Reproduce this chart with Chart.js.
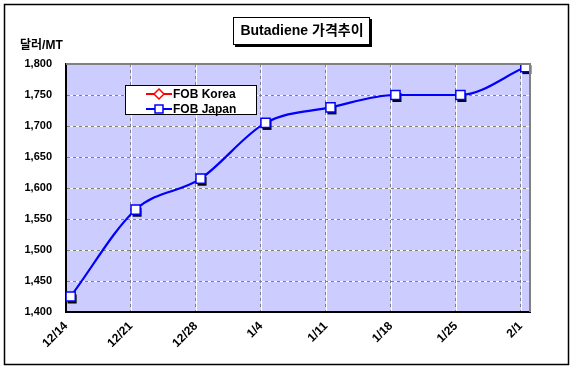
<!DOCTYPE html>
<html>
<head>
<meta charset="utf-8">
<script src="https://cdn.jsdelivr.net/npm/chart.js@4"></script>
<style>
  body { margin: 0; background: #fff; }
  canvas { display: block; }
</style>
</head>
<body>
<canvas id="myChart" width="574" height="369"></canvas>
<script>
// weekly dates and day offsets from 12/14
var categories = ['12/14', '12/21', '12/28', '1/4', '1/11', '1/18', '1/25', '2/1'];
var dayIndex = [0, 7, 14, 21, 28, 35, 42, 49];
var fobKorea = [1425, 1565, 1615, 1705, 1730, 1750, 1750, 1795];
var fobJapan = [1425, 1565, 1615, 1705, 1730, 1750, 1750, 1795];
var yTicks = [1400, 1450, 1500, 1550, 1600, 1650, 1700, 1750, 1800];

var FONT = "'Liberation Sans', 'Noto Sans CJK KR', sans-serif";

function toPoints(values) {
    // Excel date axis puts each point in the middle of its day
    return values.map(function (v, i) { return { x: dayIndex[i] + 0.5, y: v }; });
}

var decor = {
    id: 'decor',
    beforeDraw: function (chart) {
        var c = chart.ctx, a = chart.chartArea;
        c.save();
        c.fillStyle = '#CCCCFF';
        c.fillRect(a.left, a.top, a.right - a.left, a.bottom - a.top);
        // white under-line for the dashed grid
        c.strokeStyle = '#ffffff';
        c.lineWidth = 1;
        chart.scales.x.ticks.forEach(function (t) {
            var px = Math.round(chart.scales.x.getPixelForValue(t.value)) + 0.5;
            c.beginPath(); c.moveTo(px, a.top); c.lineTo(px, a.bottom); c.stroke();
        });
        chart.scales.y.ticks.forEach(function (t) {
            var py = Math.round(chart.scales.y.getPixelForValue(t.value)) + 0.5;
            c.beginPath(); c.moveTo(a.left, py); c.lineTo(a.right, py); c.stroke();
        });
        c.restore();
    },
    beforeDatasetDraw: function (chart, args) {
        if (chart.data.datasets[args.index].label !== 'FOB Japan') return;
        var c = chart.ctx;
        c.save();
        c.fillStyle = '#000000';
        args.meta.data.forEach(function (p) {
            c.fillRect(p.x - 3, p.y - 2, 9, 9);
        });
        c.restore();
    },
    afterDraw: function (chart) {
        var c = chart.ctx, a = chart.chartArea;
        c.save();
        // plot area frame (top / right)
        c.strokeStyle = '#808080';
        c.lineWidth = 2;
        c.beginPath();
        c.moveTo(a.left, a.top); c.lineTo(a.right, a.top); c.lineTo(a.right, a.bottom);
        c.stroke();

        // outer border
        c.strokeStyle = '#000';
        c.lineWidth = 1.5;
        c.strokeRect(4.5, 4.5, 564, 360);

        // title box
        c.fillStyle = '#000';
        c.fillRect(235, 19, 137, 28);
        c.fillStyle = '#fff';
        c.fillRect(233, 17, 137, 28);
        c.lineWidth = 1;
        c.strokeRect(233.5, 17.5, 136, 27);
        c.fillStyle = '#000';
        c.textBaseline = 'middle';
        c.textAlign = 'center';
        c.font = 'bold 14px ' + FONT;
        c.fillText('Butadiene 가격추이', 302, 31);

        // unit label
        c.textAlign = 'left';
        c.font = 'bold 12px ' + FONT;
        c.fillText('달러/MT', 20, 46);

        // legend
        c.fillStyle = '#fff';
        c.fillRect(125, 85, 132, 30);
        c.strokeStyle = '#000';
        c.strokeRect(125.5, 85.5, 131, 29);
        var rows = [chart.data.datasets[0], chart.data.datasets[1]];
        rows.forEach(function (ds, i) {
            var y = 94 + i * 15;
            c.strokeStyle = ds.borderColor;
            c.lineWidth = 2;
            c.beginPath(); c.moveTo(146, y); c.lineTo(172, y); c.stroke();
            c.fillStyle = '#fff';
            c.lineWidth = 1.5;
            c.beginPath();
            if (ds.pointStyle === 'rectRot') {
                c.moveTo(159, y - 5); c.lineTo(164, y); c.lineTo(159, y + 5); c.lineTo(154, y);
                c.closePath();
            } else {
                c.rect(155, y - 4, 8, 8);
            }
            c.fill(); c.stroke();
            c.fillStyle = '#000';
            c.font = 'bold 12px ' + FONT;
            c.textBaseline = 'middle';
            c.fillText(ds.label, 173, y + 1);
        });
        c.restore();
    }
};

var ctx = document.getElementById('myChart').getContext('2d');
var myChart = new Chart(ctx, {
    type: 'line',
    data: {
        datasets: [
            {
                label: 'FOB Korea',
                data: toPoints(fobKorea),
                borderColor: '#FF0000',
                backgroundColor: '#FF0000',
                pointBackgroundColor: '#ffffff',
                pointBorderColor: '#FF0000',
                pointStyle: 'rectRot',
                pointRadius: 4,
                pointBorderWidth: 1.5,
                borderWidth: 1,
                cubicInterpolationMode: 'monotone',
                order: 1
            },
            {
                label: 'FOB Japan',
                data: toPoints(fobJapan),
                borderColor: '#0000FF',
                backgroundColor: '#0000FF',
                pointBackgroundColor: '#ffffff',
                pointBorderColor: '#0000FF',
                pointStyle: 'rect',
                pointRadius: 6.5,
                pointBorderWidth: 1.5,
                borderWidth: 2.2,
                cubicInterpolationMode: 'monotone',
                order: 0
            }
        ]
    },
    options: {
        responsive: false,
        animation: false,
        devicePixelRatio: 1,
        layout: { padding: { left: 0, top: 64, right: 44, bottom: 0 } },
        plugins: {
            legend: { display: false },
            tooltip: { enabled: false }
        },
        scales: {
            x: {
                type: 'linear',
                min: 0,
                max: 50,
                afterBuildTicks: function (scale) {
                    scale.ticks = dayIndex.map(function (d) { return { value: d }; });
                },
                afterFit: function (scale) { scale.height = 57; },
                ticks: {
                    autoSkip: false,
                    minRotation: 45,
                    maxRotation: 45,
                    padding: 7,
                    color: '#000',
                    font: { family: FONT, size: 12, weight: 'bold' },
                    callback: function (v) { return categories[dayIndex.indexOf(v)]; }
                },
                grid: { color: '#808080', drawTicks: false },
                border: { display: true, color: '#000', width: 2, dash: [3, 3] }
            },
            y: {
                min: 1400,
                max: 1800,
                afterBuildTicks: function (scale) {
                    scale.ticks = yTicks.map(function (v) { return { value: v }; });
                },
                afterFit: function (scale) { scale.width = 66; },
                ticks: {
                    padding: 14,
                    color: '#000',
                    font: { family: FONT, size: 11, weight: 'bold' },
                    callback: function (v) { return v.toLocaleString('en-US'); }
                },
                grid: { color: '#808080', drawTicks: false },
                border: { display: true, color: '#000', width: 2, dash: [3, 3] }
            }
        }
    },
    plugins: [decor]
});
</script>
</body>
</html>
